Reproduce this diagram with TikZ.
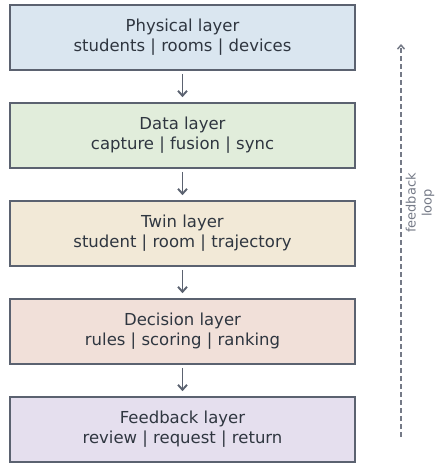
\documentclass[tikz,border=0pt]{standalone}
\usepackage{fontspec}
\setmainfont{DejaVu Sans}
\usetikzlibrary{positioning,arrows.meta}
\definecolor{edgegray}{HTML}{5B6270}
\definecolor{textgray}{HTML}{2F3640}
\definecolor{loopgray}{HTML}{757A87}
\definecolor{physfill}{HTML}{DAE6F0}
\definecolor{datafill}{HTML}{E1EDDB}
\definecolor{twinfill}{HTML}{F2E9D7}
\definecolor{decifill}{HTML}{F1E0D9}
\definecolor{feedfill}{HTML}{E5DFEE}
\tikzset{
  layer/.style={draw=edgegray, line width=1.6pt, text=textgray, align=center,
    minimum width=345pt, minimum height=65pt, inner sep=0pt,
    font=\fontsize{16.5}{20}\selectfont},
  flow/.style={-{Straight Barb[length=5pt,width=9pt]}, draw=edgegray, line width=1.9pt},
}
\begin{document}
\begin{tikzpicture}[x=1pt,y=1pt]
\useasboundingbox (0,0) rectangle (435,-465);
\node[layer, fill=physfill] (phys) at (182.5,-37.5) {Physical layer\\students | rooms | devices};
\node[layer, fill=datafill, below=31.4pt of phys] (data) {Data layer\\capture | fusion | sync};
\node[layer, fill=twinfill, below=31.4pt of data] (twin) {Twin layer\\student | room | trajectory};
\node[layer, fill=decifill, below=31.4pt of twin] (deci) {Decision layer\\rules | scoring | ranking};
\node[layer, fill=feedfill, below=31.4pt of deci] (feed) {Feedback layer\\review | request | return};
% arrows between the layers
\draw[flow] ([yshift=-3pt]phys.south) -- ([yshift=5pt]data.north);
\draw[flow] ([yshift=-3pt]data.south) -- ([yshift=5pt]twin.north);
\draw[flow] ([yshift=-3pt]twin.south) -- ([yshift=5pt]deci.north);
\draw[flow] ([yshift=-3pt]deci.south) -- ([yshift=5pt]feed.north);
% feedback loop
\coordinate (loopbot) at (401,-437);
\coordinate (looptop) at (401,-44);
\draw[-{Straight Barb[length=4pt,width=7pt]}, dash pattern=on 5pt off 3pt, draw=loopgray, line width=1.5pt] (loopbot) -- (looptop);
\node[rotate=90, align=center, text=loopgray, font=\fontsize{13}{16}\selectfont] (looplabel) at (420,-203) {feedback\\loop};
\end{tikzpicture}
\end{document}
